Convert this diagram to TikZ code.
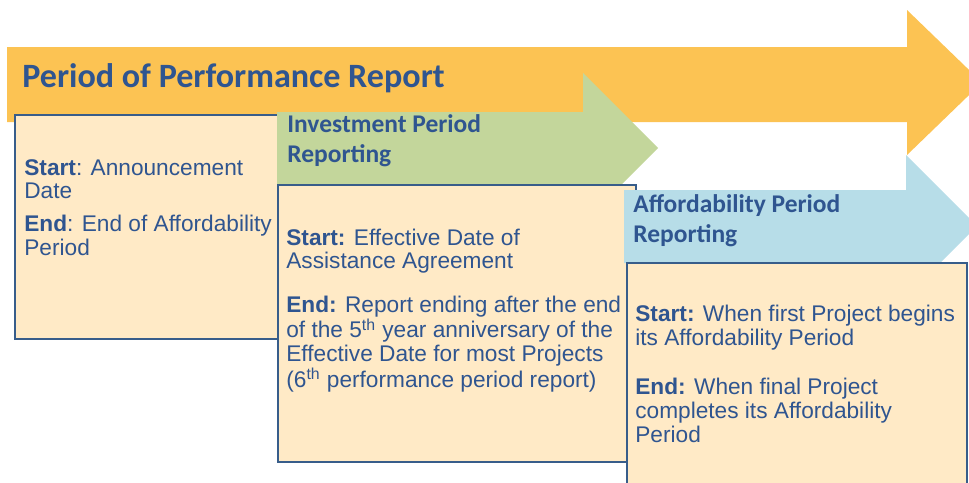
\documentclass[tikz,border=0pt]{standalone}
\usepackage{fontspec}
\setmainfont{Liberation Sans}
\newfontfamily\headfont{Carlito}
\usepackage{xcolor}
\definecolor{ppgold}{HTML}{FCC353}
\definecolor{ppgreen}{HTML}{C3D69B}
\definecolor{ppblue}{HTML}{B7DDE8}
\definecolor{pppeach}{HTML}{FFEAC6}
\definecolor{ppnavy}{HTML}{385D8A}
\definecolor{pptext}{HTML}{2F5590}
\usepackage{tikz}

\begin{document}
\begin{tikzpicture}
[gold/.style={fill=ppgold},
green/.style={fill=ppgreen},
blue/.style={fill=ppblue},
card/.style={rectangle,draw=ppnavy,fill=pppeach,line width=1.6pt},
title/.style={anchor=base west,inner sep=0pt,text=pptext,font=\headfont\bfseries\fontsize{19.4}{22}\selectfont},
head/.style={anchor=base west,inner sep=0pt,align=left,text=pptext,font=\headfont\bfseries\fontsize{14.5}{16.6}\selectfont},
body/.style={anchor=base west,inner sep=0pt,align=left,text=pptext,font=\fontsize{12.9}{13.4}\selectfont}]

\useasboundingbox (0,0) rectangle (19.38,-9.64);
\clip (0,0) rectangle (19.38,-9.64);

\path [gold] (0.14,-0.94) -- (18.14,-0.94) -- (18.14,-0.2) -- (19.64,-1.65) -- (18.14,-3.1) -- (18.14,-2.44) -- (0.14,-2.44) -- cycle;
\node at (0.44,-1.74) [title] (pop) {Period of Performance Report};
\draw [card] (0.30,-2.30) rectangle (5.56,-6.78);
\node at (0.48,-5.10) [body] (popt) {\textbf{Start}: Announcement\\Date\\[5.1pt]\textbf{End}: End of Affordability\\Period};

\path [green] (5.54,-2.24) -- (11.66,-2.24) -- (11.66,-1.46) -- (13.16,-2.96) -- (11.66,-4.46) -- (11.66,-3.70) -- (5.54,-3.70) -- cycle;
\node at (5.74,-3.24) [head] (inv) {Investment Period\\Reporting};
\draw [card] (5.56,-3.70) rectangle (12.72,-9.24);
\node at (5.72,-7.74) [body] (invt) {\textbf{Start:} Effective Date of\\Assistance Agreement\\[11.4pt]\textbf{End:} Report ending after the end\\of the 5\textsuperscript{th} year anniversary of the\\Effective Date for most Projects\\(6\textsuperscript{th} performance period report)};

\path [blue] (12.48,-3.80) -- (18.12,-3.80) -- (18.12,-3.10) -- (19.54,-4.52) -- (18.12,-5.94) -- (18.12,-5.26) -- (12.48,-5.26) -- cycle;
\node at (12.66,-4.84) [head] (aff) {Affordability Period\\Reporting};
\draw [card] (12.54,-5.26) rectangle (19.34,-9.9);
\node at (12.70,-8.84) [body] (afft) {\textbf{Start:} When first Project begins\\its Affordability Period\\[14.8pt]\textbf{End:} When final Project\\completes its Affordability\\Period};
\end{tikzpicture}
\end{document}
